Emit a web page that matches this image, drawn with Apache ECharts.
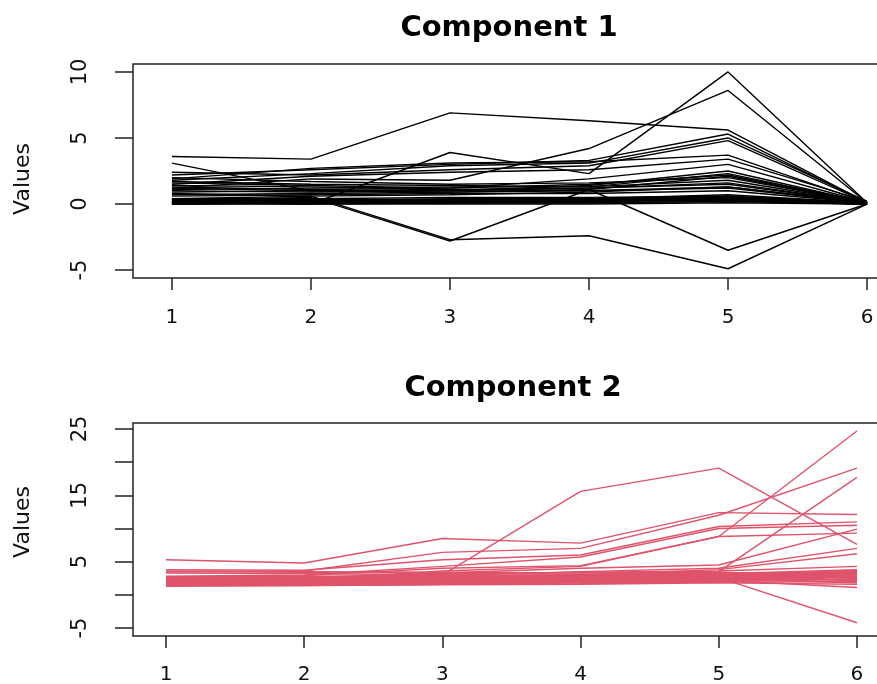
<!DOCTYPE html>
<html>
<head>
<meta charset="utf-8">
<script src="https://cdn.jsdelivr.net/npm/echarts@6/dist/echarts.min.js"></script>
<style>
  html, body { margin: 0; padding: 0; background: #fff; overflow: hidden; }
  #chart { width: 920px; height: 684px; }
</style>
</head>
<body>
<div id="chart"></div>
<script>
// x positions shared by both panels
const xValues = [1, 2, 3, 4, 5, 6]

// Component 1 (black lines), one row per observation
const comp1Lines = [
  [3.6, 3.4, 6.9, 6.3, 5.6, 0.1],
  [0.2, 0.0, 3.9, 2.3, 10.0, 0.1],
  [1.2, 1.9, 1.8, 4.2, 8.6, 0.1],
  [2.2, 2.6, 3.0, 3.3, 5.3, 0.1],
  [1.8, 2.3, 2.9, 3.1, 5.0, 0.2],
  [2.4, 2.2, 2.6, 2.9, 4.8, 0.1],
  [3.1, 1.0, 0.9, 1.0, 1.3, 0.1],
  [1.9, 2.7, 3.1, 3.2, 3.7, 0.1],
  [1.5, 2.1, 2.4, 2.6, 3.4, 0.2],
  [1.3, 1.1, 1.2, 1.9, 3.0, 0.1],
  [1.0, 0.9, 1.0, 1.4, 2.5, 0.1],
  [1.1, 1.2, 1.3, 1.3, 2.3, 0.1],
  [0.7, 0.8, 0.9, 1.1, 2.1, 0.1],
  [1.4, 1.3, 1.1, 1.2, 1.5, 0.1],
  [0.8, 0.6, 0.7, 0.9, 1.3, 0.1],
  [0.4, 0.6, -2.7, -2.4, -4.9, 0.0],
  [0.3, 0.5, -2.8, 1.1, -3.5, 0.0],
  [2.0, 1.7, 1.5, 1.6, 2.0, 0.1],
  [1.7, 1.5, 1.4, 1.3, 1.8, 0.1],
  [1.6, 1.4, 1.2, 1.5, 2.2, 0.1],
  [1.2, 1.0, 1.0, 1.2, 1.6, 0.1],
  [0.9, 1.0, 1.1, 1.0, 1.2, 0.1],
  [0.6, 0.7, 0.8, 0.8, 1.0, 0.1],
  [0.0, 0.0, 0.0, 0.0, 0.1, 0.0],
  [0.0, 0.1, 0.1, 0.1, 0.2, 0.0],
  [0.1, 0.1, 0.1, 0.2, 0.3, 0.0],
  [0.1, 0.2, 0.2, 0.2, 0.4, 0.0],
  [0.2, 0.2, 0.3, 0.3, 0.5, 0.0],
  [0.2, 0.3, 0.3, 0.4, 0.6, 0.0],
  [0.3, 0.3, 0.4, 0.4, 0.7, 0.1],
  [0.4, 0.4, 0.5, 0.5, 0.6, 0.1],
  [0.0, 0.1, 0.2, 0.3, 0.4, 0.0],
  [0.1, 0.0, 0.1, 0.1, 0.2, 0.0],
  [0.2, 0.1, 0.2, 0.3, 0.3, 0.0],
  [0.3, 0.2, 0.3, 0.2, 0.4, 0.0],
  [0.4, 0.3, 0.3, 0.4, 0.5, 0.1],
  [0.0, 0.2, 0.1, 0.2, 0.3, 0.0],
  [0.1, 0.3, 0.2, 0.3, 0.5, 0.0]
]

// Component 2 (red lines)
const comp2Lines = [
  [1.8, 2.0, 3.0, 15.6, 19.1, 7.6],
  [2.0, 2.2, 3.6, 4.3, 8.8, 24.7],
  [5.3, 4.8, 8.5, 7.8, 12.4, 12.1],
  [3.5, 3.6, 6.4, 7.0, 12.0, 19.1],
  [2.2, 2.4, 2.8, 3.0, 3.5, 17.7],
  [3.8, 3.7, 5.3, 6.0, 10.3, 11.0],
  [2.8, 3.0, 4.3, 5.7, 10.0, 10.5],
  [2.6, 2.9, 4.0, 4.4, 8.8, 9.3],
  [2.4, 2.6, 3.3, 4.0, 4.5, 9.9],
  [2.1, 2.3, 2.9, 3.5, 4.0, 7.0],
  [1.9, 2.1, 2.6, 3.0, 3.8, 6.2],
  [2.3, 2.5, 3.1, 3.4, 3.6, 4.3],
  [1.8, 1.9, 2.2, 2.3, 2.6, -4.2],
  [1.5, 1.6, 1.8, 2.0, 2.2, 1.1],
  [1.3, 1.4, 1.5, 1.6, 1.8, 1.6],
  [1.4, 1.4, 1.6, 1.7, 1.9, 2.0],
  [1.5, 1.5, 1.6, 1.8, 2.0, 2.4],
  [1.6, 1.6, 1.7, 1.9, 2.1, 2.8],
  [1.7, 1.7, 1.8, 2.0, 2.2, 3.2],
  [1.8, 1.8, 1.9, 2.1, 2.3, 3.5],
  [1.9, 1.9, 2.0, 2.2, 2.4, 1.9],
  [2.0, 2.0, 2.1, 2.3, 2.5, 2.2],
  [2.1, 2.1, 2.2, 2.4, 2.6, 2.6],
  [2.2, 2.2, 2.3, 2.5, 2.7, 3.0],
  [2.3, 2.3, 2.4, 2.6, 2.8, 3.4],
  [2.4, 2.4, 2.5, 2.7, 2.9, 3.7],
  [2.5, 2.5, 2.6, 2.8, 3.0, 2.1],
  [2.6, 2.6, 2.7, 2.9, 3.1, 2.5],
  [1.4, 1.6, 1.8, 2.0, 2.3, 2.9],
  [1.6, 1.8, 2.0, 2.2, 2.5, 3.3],
  [1.5, 1.7, 1.9, 2.1, 2.4, 1.8],
  [3.3, 3.2, 3.0, 2.9, 3.1, 3.6],
  [3.5, 3.4, 3.3, 3.1, 3.2, 3.8],
  [3.6, 3.5, 3.4, 3.3, 3.4, 2.7],
  [2.7, 2.8, 2.9, 3.0, 3.3, 3.1],
  [1.8, 2.0, 2.2, 2.4, 2.6, 3.6],
  [2.0, 2.2, 2.4, 2.6, 2.8, 2.3]
]

// tick marks and labels
const xTicks = [1, 2, 3, 4, 5, 6]
const y1Ticks = [-5, 0, 5, 10]
const y1Labels = [-5, 0, 5, 10]
const y2Ticks = [-5, 0, 5, 10, 15, 20, 25]
const y2Labels = [-5, 5, 15, 25]

const FONT = '"DejaVu Sans", "Liberation Sans", sans-serif'
const RED = '#DF536B'

const chart = echarts.init(document.getElementById('chart'))

const makeSeries = (lines, idx, color) => lines.map(row => ({
  type: 'line',
  xAxisIndex: idx,
  yAxisIndex: idx,
  data: row.map((v, i) => [xValues[i], v]),
  symbol: 'none',
  silent: true,
  lineStyle: { color: color, width: 1.4 }
}))

const xAxisCommon = (idx, labelMargin) => ({
  type: 'value',
  gridIndex: idx,
  position: 'bottom',
  splitLine: { show: false },
  axisLine: { show: false, onZero: false },
  axisTick: { show: true, inside: false, length: 12, customValues: xTicks, lineStyle: { color: '#222', width: 1.5 } },
  axisLabel: { customValues: xTicks, margin: labelMargin, color: '#111', fontFamily: FONT, fontSize: 20 }
})

const yAxisCommon = (idx, ticks, labels) => ({
  type: 'value',
  gridIndex: idx,
  position: 'left',
  splitLine: { show: false },
  axisLine: { show: false, onZero: false },
  axisTick: { show: true, inside: false, length: 18, customValues: ticks, lineStyle: { color: '#222', width: 1.5 } },
  axisLabel: { customValues: labels, rotate: 90, margin: 42, color: '#111', fontFamily: FONT, fontSize: 21 }
})

const option = {
  animation: false,
  backgroundColor: '#fff',
  grid: [
    { left: 133, top: 64, right: 14, height: 214, show: true, borderColor: '#222', borderWidth: 1.5, backgroundColor: 'transparent', outerBoundsMode: 'none' },
    { left: 133, top: 423, right: 30, height: 213, show: true, borderColor: '#222', borderWidth: 1.5, backgroundColor: 'transparent', outerBoundsMode: 'none' }
  ],
  xAxis: [
    Object.assign(xAxisCommon(0, 30), { min: 0.72, max: 6.28 }),
    Object.assign(xAxisCommon(1, 29), { min: 0.761, max: 6.239 })
  ],
  yAxis: [
    Object.assign(yAxisCommon(0, y1Ticks, y1Labels), { min: -5.6, max: 10.6 }),
    Object.assign(yAxisCommon(1, y2Ticks, y2Labels), { min: -6.2, max: 25.9 })
  ],
  graphic: [
    { type: 'text', x: 509, y: 28, style: { text: 'Component 1', font: 'bold 29px ' + FONT, fill: '#000', align: 'center', verticalAlign: 'middle', textAlign: 'center', textVerticalAlign: 'middle' } },
    { type: 'text', x: 513, y: 388, style: { text: 'Component 2', font: 'bold 29px ' + FONT, fill: '#000', align: 'center', verticalAlign: 'middle', textAlign: 'center', textVerticalAlign: 'middle' } },
    { type: 'text', x: 23, y: 179, rotation: Math.PI / 2, style: { text: 'Values', font: '22px ' + FONT, fill: '#111', align: 'center', verticalAlign: 'middle', textAlign: 'center', textVerticalAlign: 'middle' } },
    { type: 'text', x: 23, y: 522, rotation: Math.PI / 2, style: { text: 'Values', font: '22px ' + FONT, fill: '#111', align: 'center', verticalAlign: 'middle', textAlign: 'center', textVerticalAlign: 'middle' } }
  ],
  series: makeSeries(comp1Lines, 0, '#000').concat(makeSeries(comp2Lines, 1, RED))
}

chart.setOption(option)
</script>
</body>
</html>
